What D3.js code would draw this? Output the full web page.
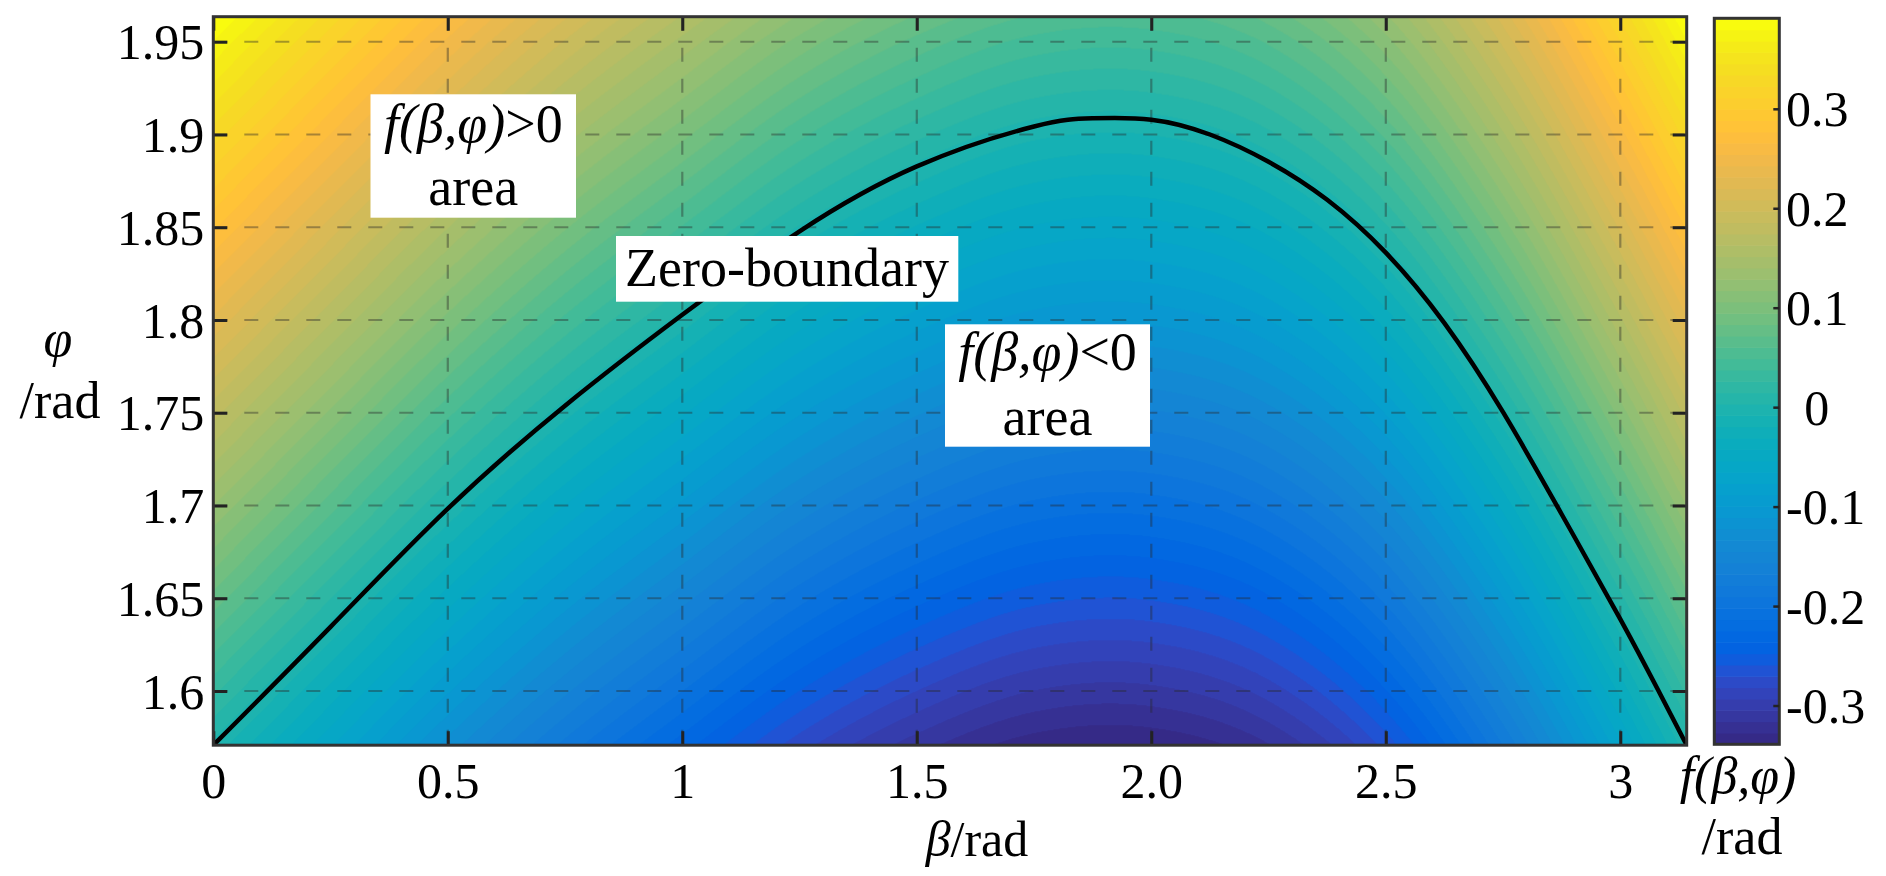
<!DOCTYPE html>
<html>
<head>
<meta charset="utf-8">
<script src="https://cdn.jsdelivr.net/npm/d3@7/dist/d3.min.js"></script>
<style>
  html, body { margin: 0; padding: 0; background: #fff; }
  svg { display: block; }
</style>
</head>
<body>
<svg id="chart" width="1886" height="876"></svg>
<script>
// ---------------- DATA ----------------
const xTicks = [0, 0.5, 1, 1.5, 2, 2.5, 3];
const xTickLabels = ["0", "0.5", "1", "1.5", "2.0", "2.5", "3"];
const yTicks = [1.6, 1.65, 1.7, 1.75, 1.8, 1.85, 1.9, 1.95];
const yTickLabels = ["1.6", "1.65", "1.7", "1.75", "1.8", "1.85", "1.9", "1.95"];
const cbTicks = [-0.3, -0.2, -0.1, 0, 0.1, 0.2, 0.3];
const cbTickLabels = ["-0.3", "-0.2", "-0.1", "0", "0.1", "0.2", "0.3"];
const colorRange = [-0.339, 0.391];

// zero boundary curve (beta, phi)
const boundaryBeta = [0, 0.25, 0.5, 0.75, 1.0, 1.25, 1.5, 1.75, 1.875, 2.0, 2.125, 2.25, 2.375, 2.5, 2.625, 2.75, 2.875, 3.0, 3.08, Math.PI];
const boundaryPhi  = [1.5708, 1.6346, 1.6983, 1.7538, 1.8028, 1.8478, 1.8828, 1.9043, 1.9087, 1.9080, 1.9000, 1.8853, 1.8648, 1.8363, 1.7983, 1.7503, 1.6953, 1.6388, 1.6008, 1.5708];

// f(beta, phi) field sampled on a grid (columns: beta, rows: phi)
const betaGrid = [0, 0.25, 0.5, 0.75, 1, 1.25, 1.5, 1.75, 2, 2.25, 2.5, 2.75, 3, Math.PI];
const phiGrid = [Math.PI / 2, 1.6, 1.65, 1.7, 1.75, 1.8, 1.85, 1.9, 1.95, 5 * Math.PI / 8];
const fRow0 = [0, -0.064, -0.127, -0.183, -0.231, -0.277, -0.311, -0.334, -0.337, -0.317, -0.266, -0.179, -0.068, 0];
const fRow1 = [0.029, -0.035, -0.098, -0.154, -0.202, -0.248, -0.282, -0.305, -0.308, -0.288, -0.237, -0.150, -0.039, 0.029];
const fRow2 = [0.079, 0.015, -0.048, -0.104, -0.152, -0.198, -0.232, -0.255, -0.258, -0.238, -0.187, -0.100, 0.011, 0.079];
const fRow3 = [0.129, 0.065, 0.002, -0.054, -0.102, -0.148, -0.182, -0.205, -0.208, -0.188, -0.137, -0.050, 0.061, 0.129];
const fRow4 = [0.179, 0.115, 0.052, -0.004, -0.052, -0.098, -0.132, -0.155, -0.158, -0.138, -0.087, 0.000, 0.111, 0.179];
const fRow5 = [0.229, 0.165, 0.102, 0.046, -0.002, -0.048, -0.082, -0.105, -0.108, -0.088, -0.037, 0.050, 0.161, 0.229];
const fRow6 = [0.279, 0.215, 0.152, 0.096, 0.048, 0.002, -0.032, -0.055, -0.058, -0.038, 0.013, 0.100, 0.211, 0.279];
const fRow7 = [0.329, 0.265, 0.202, 0.146, 0.098, 0.052, 0.018, -0.005, -0.008, 0.012, 0.063, 0.150, 0.261, 0.329];
const fRow8 = [0.379, 0.315, 0.252, 0.196, 0.148, 0.102, 0.068, 0.045, 0.042, 0.062, 0.113, 0.200, 0.311, 0.379];
const fRow9 = [0.393, 0.329, 0.266, 0.210, 0.162, 0.116, 0.082, 0.059, 0.056, 0.076, 0.127, 0.214, 0.325, 0.393];
const fGrid = [fRow0, fRow1, fRow2, fRow3, fRow4, fRow5, fRow6, fRow7, fRow8, fRow9];

// parula colormap (64 levels)
const parula = [
[0.2081,0.1663,0.5292],[0.2116,0.1898,0.5777],[0.2123,0.2138,0.6270],[0.2081,0.2386,0.6771],
[0.1959,0.2645,0.7279],[0.1707,0.2919,0.7792],[0.1253,0.3242,0.8303],[0.0591,0.3598,0.8683],
[0.0117,0.3875,0.8820],[0.0060,0.4086,0.8828],[0.0165,0.4266,0.8786],[0.0329,0.4430,0.8720],
[0.0498,0.4586,0.8641],[0.0629,0.4737,0.8554],[0.0723,0.4887,0.8467],[0.0779,0.5040,0.8384],
[0.0793,0.5200,0.8312],[0.0749,0.5375,0.8263],[0.0641,0.5570,0.8240],[0.0488,0.5772,0.8228],
[0.0343,0.5966,0.8199],[0.0265,0.6137,0.8135],[0.0239,0.6287,0.8038],[0.0231,0.6418,0.7913],
[0.0228,0.6535,0.7768],[0.0267,0.6642,0.7607],[0.0384,0.6743,0.7436],[0.0590,0.6838,0.7254],
[0.0843,0.6928,0.7062],[0.1133,0.7015,0.6859],[0.1453,0.7098,0.6646],[0.1801,0.7177,0.6424],
[0.2178,0.7250,0.6193],[0.2586,0.7317,0.5954],[0.3022,0.7376,0.5712],[0.3482,0.7424,0.5473],
[0.3953,0.7459,0.5244],[0.4420,0.7481,0.5033],[0.4871,0.7491,0.4840],[0.5300,0.7491,0.4661],
[0.5709,0.7485,0.4494],[0.6099,0.7473,0.4337],[0.6473,0.7456,0.4188],[0.6834,0.7435,0.4044],
[0.7184,0.7411,0.3905],[0.7525,0.7384,0.3768],[0.7858,0.7356,0.3633],[0.8185,0.7327,0.3498],
[0.8507,0.7299,0.3360],[0.8824,0.7274,0.3217],[0.9139,0.7258,0.3063],[0.9450,0.7261,0.2886],
[0.9739,0.7314,0.2666],[0.9938,0.7455,0.2403],[0.9990,0.7653,0.2164],[0.9955,0.7861,0.1967],
[0.9880,0.8066,0.1794],[0.9789,0.8271,0.1633],[0.9697,0.8481,0.1475],[0.9626,0.8705,0.1309],
[0.9589,0.8949,0.1132],[0.9598,0.9218,0.0948],[0.9661,0.9514,0.0755],[0.9763,0.9831,0.0538]
];

// ---------------- FONT PICK (also forces the serif faces to load) ----------------
const serifCandidates = ["Liberation Serif", "Times New Roman", "Tinos", "Nimbus Roman", "FreeSerif", "DejaVu Serif", "Noto Serif"];
function fontAvailable(name) {
  const c = document.createElement("canvas").getContext("2d");
  const s = "Zero-boundary 0.123 abcmwiWQ";
  c.font = "50px monospace"; const w1 = c.measureText(s).width;
  c.font = `50px "${name}", monospace`; const w2 = c.measureText(s).width;
  c.font = `italic 50px "${name}", monospace`; c.measureText(s + "βφ");
  c.font = "50px sans-serif"; const w3 = c.measureText(s).width;
  c.font = `50px "${name}", sans-serif`; const w4 = c.measureText(s).width;
  return Math.abs(w1 - w2) > 0.5 || Math.abs(w3 - w4) > 0.5;
}
const found = serifCandidates.filter(fontAvailable).map(n => `"${n}"`);
const SERIF = (found.length ? found.join(", ") + ", " : "") + "serif";

// ---------------- LAYOUT ----------------
const plot = { left: 213.3, right: 1686.7, top: 16.7, bottom: 745.2 };
const cb = { left: 1714.3, right: 1779.3, top: 18.3, bottom: 744.3 };
const FONT_TICK = 50, FONT_TITLE = 52, FONT_NOTE = 54;

const svg = d3.select("#chart").style("font-family", SERIF);
svg.append("rect").attr("width", 1886).attr("height", 876).attr("fill", "#fff");

const x = d3.scaleLinear().domain([0, Math.PI]).range([plot.left, plot.right]);
const y = d3.scaleLinear().domain([Math.PI / 2, 5 * Math.PI / 8]).range([plot.bottom, plot.top]);
const cbY = d3.scaleLinear().domain(colorRange).range([cb.bottom, cb.top]);
const colors = parula.map(c => d3.rgb(c[0] * 255, c[1] * 255, c[2] * 255));
const color = d3.scaleQuantize().domain(colorRange).range(colors);

// ---------------- HEATMAP ----------------
function rowValue(row, beta) {
  const n = betaGrid.length;
  const i = Math.max(0, Math.min(n - 2, d3.bisectRight(betaGrid, beta) - 1));
  const x0 = betaGrid[i], x1 = betaGrid[i + 1], h = x1 - x0;
  const y0 = row[i], y1 = row[i + 1];
  const slope = k => {
    const a = Math.max(0, k - 1), b = Math.min(n - 1, k + 1);
    return (row[b] - row[a]) / (betaGrid[b] - betaGrid[a]);
  };
  const m0 = slope(i), m1 = slope(i + 1);
  const t = Math.max(0, Math.min(1, (beta - x0) / h));
  const t2 = t * t, t3 = t2 * t;
  return (2 * t3 - 3 * t2 + 1) * y0 + (t3 - 2 * t2 + t) * h * m0 + (-2 * t3 + 3 * t2) * y1 + (t3 - t2) * h * m1;
}
function fieldAt(beta, phi) {
  const np = phiGrid.length;
  const j = Math.max(0, Math.min(np - 2, d3.bisectRight(phiGrid, phi) - 1));
  const ty = Math.max(0, Math.min(1, (phi - phiGrid[j]) / (phiGrid[j + 1] - phiGrid[j])));
  return rowValue(fGrid[j], beta) * (1 - ty) + rowValue(fGrid[j + 1], beta) * ty;
}
const W = Math.round(plot.right - plot.left), H = Math.round(plot.bottom - plot.top);
const canvas = document.createElement("canvas");
canvas.width = W; canvas.height = H;
const ctx = canvas.getContext("2d");
const img = ctx.createImageData(W, H);
for (let py = 0; py < H; py++) {
  const phi = y.invert(plot.top + (py + 0.5) * (plot.bottom - plot.top) / H);
  for (let px = 0; px < W; px++) {
    const beta = x.invert(plot.left + (px + 0.5) * (plot.right - plot.left) / W);
    const c = color(fieldAt(beta, phi));
    const k = (py * W + px) * 4;
    img.data[k] = c.r; img.data[k + 1] = c.g; img.data[k + 2] = c.b; img.data[k + 3] = 255;
  }
}
ctx.putImageData(img, 0, 0);
svg.append("image")
  .attr("x", plot.left).attr("y", plot.top)
  .attr("width", plot.right - plot.left).attr("height", plot.bottom - plot.top)
  .attr("preserveAspectRatio", "none")
  .attr("href", canvas.toDataURL());

// ---------------- GRID LINES ----------------
const grid = svg.append("g").attr("stroke", "rgba(40,40,40,0.4)").attr("stroke-width", 2.2)
  .attr("stroke-dasharray", "14,17").attr("fill", "none");
grid.selectAll("line.v").data(xTicks.filter(v => v > 0)).join("line")
  .attr("x1", d => x(d)).attr("x2", d => x(d)).attr("y1", plot.top).attr("y2", plot.bottom);
grid.selectAll("line.h").data(yTicks).join("line")
  .attr("y1", d => y(d)).attr("y2", d => y(d)).attr("x1", plot.left).attr("x2", plot.right);

// ---------------- ZERO BOUNDARY ----------------
const boundary = boundaryBeta.map((b, i) => [b, boundaryPhi[i]]);
svg.append("clipPath").attr("id", "clipPlot").append("rect")
  .attr("x", plot.left).attr("y", plot.top).attr("width", plot.right - plot.left).attr("height", plot.bottom - plot.top);
svg.append("path")
  .attr("clip-path", "url(#clipPlot)")
  .attr("d", d3.line().x(d => x(d[0])).y(d => y(d[1])).curve(d3.curveNatural)(boundary))
  .attr("fill", "none").attr("stroke", "#000").attr("stroke-width", 4.5);

// ---------------- ANNOTATION BOXES ----------------
function addText(g, xx, yy, size, anchor) {
  return g.append("text").attr("x", xx).attr("y", yy).attr("text-anchor", anchor || "middle")
    .attr("font-size", size).style("font-family", SERIF).attr("fill", "#000");
}
function addRichLine(g, cx, by, parts, size) {
  const t = addText(g, cx, by, size, "middle");
  parts.forEach(p => t.append("tspan").style("font-style", p.italic ? "italic" : "normal").text(p.t));
  return t;
}
const notes = svg.append("g");
notes.append("rect").attr("x", 370.5).attr("y", 94.3).attr("width", 205.5).attr("height", 123.4).attr("fill", "#fff");
addRichLine(notes, 473.3, 142, [{ t: "f(β,φ)", italic: true }, { t: ">0" }], FONT_NOTE);
addRichLine(notes, 473.3, 205, [{ t: "area" }], FONT_NOTE);
notes.append("rect").attr("x", 616).attr("y", 236).attr("width", 342.3).attr("height", 65.7).attr("fill", "#fff");
addRichLine(notes, 787, 286, [{ t: "Zero-boundary" }], FONT_NOTE);
notes.append("rect").attr("x", 945).attr("y", 324.3).attr("width", 205).attr("height", 122.4).attr("fill", "#fff");
addRichLine(notes, 1047.5, 370, [{ t: "f(β,φ)", italic: true }, { t: "<0" }], FONT_NOTE);
addRichLine(notes, 1047.5, 435, [{ t: "area" }], FONT_NOTE);

// ---------------- AXES ----------------
const TICK = 14;
function styleAxis(g) {
  g.attr("font-family", null);
  g.select(".domain").remove();
  g.selectAll(".tick line").attr("stroke", "#222").attr("stroke-width", 3);
  g.selectAll("text").style("font-family", SERIF).attr("font-size", FONT_TICK).attr("fill", "#000");
}
const gBottom = svg.append("g").attr("transform", `translate(0,${plot.bottom})`)
  .call(d3.axisBottom(x).tickValues(xTicks).tickSize(-TICK).tickFormat((d, i) => xTickLabels[i]));
styleAxis(gBottom);
gBottom.selectAll("text").attr("dy", null).attr("y", 53);

const gTop = svg.append("g").attr("transform", `translate(0,${plot.top})`)
  .call(d3.axisTop(x).tickValues(xTicks).tickSize(-TICK).tickFormat(""));
styleAxis(gTop);

const gLeft = svg.append("g").attr("transform", `translate(${plot.left},0)`)
  .call(d3.axisLeft(y).tickValues(yTicks).tickSize(-TICK).tickFormat((d, i) => yTickLabels[i]));
styleAxis(gLeft);
gLeft.selectAll("text").attr("dy", null).attr("x", -9).attr("y", 17);

const gRight = svg.append("g").attr("transform", `translate(${plot.right},0)`)
  .call(d3.axisRight(y).tickValues(yTicks).tickSize(-TICK).tickFormat(""));
styleAxis(gRight);

svg.append("rect").attr("x", plot.left).attr("y", plot.top)
  .attr("width", plot.right - plot.left).attr("height", plot.bottom - plot.top)
  .attr("fill", "none").attr("stroke", "#333").attr("stroke-width", 3);

// axis titles
const xt = addText(svg, 977, 856, 50, "middle");
xt.append("tspan").style("font-style", "italic").text("β");
xt.append("tspan").text("/rad");
addText(svg, 58, 356, FONT_TITLE, "middle").style("font-style", "italic").text("φ");
addText(svg, 60, 418, FONT_TITLE, "middle").text("/rad");

// ---------------- COLORBAR ----------------
const nLev = colors.length;
const step = (colorRange[1] - colorRange[0]) / nLev;
svg.append("g").selectAll("rect").data(colors).join("rect")
  .attr("x", cb.left).attr("width", cb.right - cb.left)
  .attr("y", (c, k) => cbY(colorRange[0] + (k + 1) * step))
  .attr("height", (c, k) => cbY(colorRange[0] + k * step) - cbY(colorRange[0] + (k + 1) * step) + 0.6)
  .attr("fill", c => c);
svg.append("rect").attr("x", cb.left).attr("y", cb.top)
  .attr("width", cb.right - cb.left).attr("height", cb.bottom - cb.top)
  .attr("fill", "none").attr("stroke", "#333").attr("stroke-width", 3);
const gCb = svg.append("g").attr("transform", `translate(${cb.right},0)`)
  .call(d3.axisRight(cbY).tickValues(cbTicks).tickSize(-6).tickFormat((d, i) => cbTickLabels[i]));
styleAxis(gCb);
gCb.selectAll(".tick line").attr("stroke-width", 2.5);
gCb.selectAll("text").attr("dy", null).attr("y", 17).attr("text-anchor", "start")
  .attr("x", d => d === 0 ? 25 : 6.7);

// colorbar title
addText(svg, 1738, 793, FONT_TITLE, "middle").style("font-style", "italic").text("f(β,φ)");
addText(svg, 1742, 854, FONT_TITLE, "middle").text("/rad");
</script>
</body>
</html>
